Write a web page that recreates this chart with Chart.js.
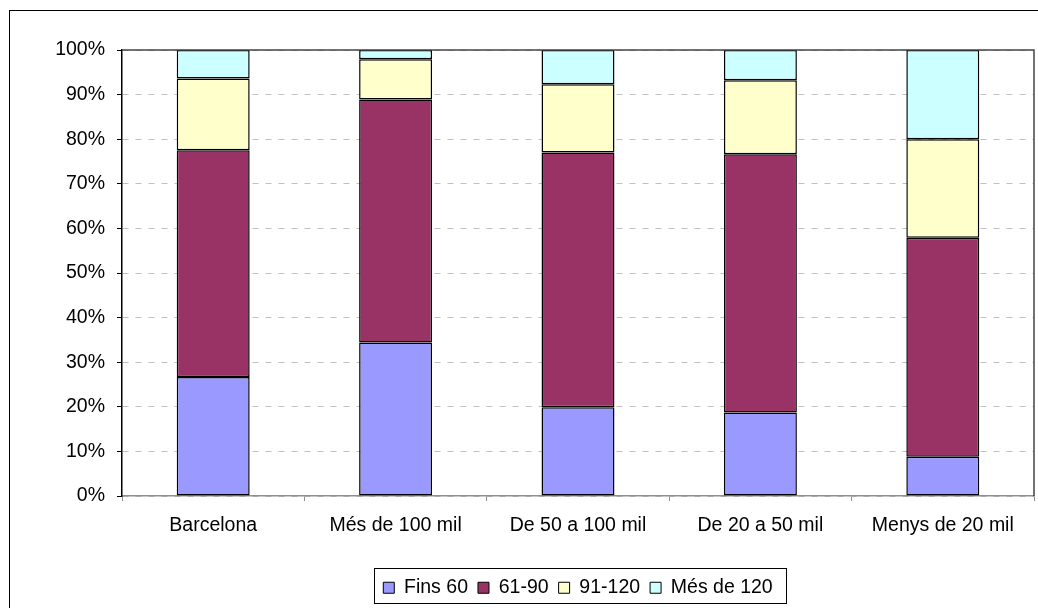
<!DOCTYPE html>
<html>
<head>
<meta charset="utf-8">
<script src="https://cdn.jsdelivr.net/npm/chart.js@4/dist/chart.umd.min.js"></script>
<style>
html,body{margin:0;padding:0;background:#fff;}
#wrap{position:absolute;left:0;top:0;width:1038px;height:608px;}
</style>
</head>
<body>
<div id="wrap"><canvas id="c" width="1038" height="608"></canvas></div>
<script>
const categories = ["Barcelona", "Més de 100 mil", "De 50 a 100 mil", "De 20 a 50 mil", "Menys de 20 mil"];
const seriesNames = ["Fins 60", "61-90", "91-120", "Més de 120"];
const fins60 = [26.7, 34.4, 19.9, 18.7, 8.8];
const r61_90 = [50.8, 54.5, 57.1, 57.9, 49.1];
const r91_120 = [16.1, 9.0, 15.3, 16.6, 22.1];
const mes120 = [6.4, 2.1, 7.7, 6.8, 20.0];
const yTicks = [0, 10, 20, 30, 40, 50, 60, 70, 80, 90, 100];

const colors = ["#9999FF", "#993366", "#FFFFCC", "#CCFFFF"];
const seriesData = [fins60, r61_90, r91_120, mes120];

const FONT = {family: "'Liberation Sans', Arial, sans-serif", size: 19.5};

const framePlugin = {
  id: 'frames',
  beforeLayout(chart) {
    const l = chart.legend;
    if (l && !l._patched) {
      const orig = l.fit.bind(l);
      l.fit = function () { orig(); this.height = 40; };
      l._patched = true;
    }
  },
  afterDraw(chart) {
    const ctx = chart.ctx;
    const a = chart.chartArea;
    ctx.save();
    ctx.strokeStyle = '#000';
    ctx.lineWidth = 1;
    ctx.strokeRect(9.5, 10.5, 1200, 700);
    ctx.strokeStyle = '#444';
    ctx.lineWidth = 1.5;
    ctx.beginPath();
    ctx.moveTo(a.left, Math.round(a.top));
    ctx.lineTo(Math.round(a.right), Math.round(a.top));
    ctx.lineTo(Math.round(a.right), a.bottom);
    ctx.stroke();
    const l = chart.legend;
    if (l && l.legendHitBoxes && l.legendHitBoxes.length) {
      const hb = l.legendHitBoxes;
      const left = hb[0].left - 9;
      const last = hb[hb.length - 1];
      const right = last.left + last.width + 14;
      ctx.strokeStyle = '#000';
      ctx.lineWidth = 1;
      ctx.strokeRect(Math.round(left) + 0.5, Math.round(l.top) + 0.5, Math.round(right - left), 35);
    }
    ctx.restore();
  }
};

new Chart(document.getElementById('c'), {
  type: 'bar',
  data: {
    labels: categories,
    datasets: seriesNames.map((n, i) => ({
      label: n,
      data: seriesData[i],
      backgroundColor: colors[i],
      borderColor: '#000',
      borderWidth: 1.5,
      borderSkipped: false,
      barPercentage: 0.4,
      categoryPercentage: 1.0
    }))
  },
  options: {
    responsive: false,
    animation: false,
    devicePixelRatio: 1,
    layout: {padding: {top: 50, right: 4, bottom: 0, left: 0}},
    plugins: {
      tooltip: {enabled: false},
      legend: {
        position: 'bottom',
        fullSize: false,
        labels: {
          font: FONT,
          color: '#000',
          boxWidth: 11,
          boxHeight: 11,
          padding: 10,
          generateLabels(chart) {
            return chart.data.datasets.map((d, i) => ({
              text: d.label,
              fillStyle: d.backgroundColor,
              strokeStyle: '#000',
              lineWidth: 1,
              datasetIndex: i,
              hidden: false
            }));
          }
        }
      }
    },
    scales: {
      x: {
        stacked: true,
        afterFit(s) { s.height = 72; },
        grid: {display: true, drawOnChartArea: false, drawTicks: true, tickLength: 5, color: '#909090', offset: true},
        border: {display: true, color: '#909090', width: 1.5},
        ticks: {font: FONT, color: '#000', padding: 13, maxRotation: 0, autoSkip: false}
      },
      y: {
        stacked: true,
        min: 0,
        max: 100,
        afterFit(s) { s.width = 122; },
        afterBuildTicks(s) { s.ticks = yTicks.map(v => ({value: v})); },
        grid: {color: '#C0C0C0', lineWidth: 1, tickLength: 5, tickColor: '#000', tickWidth: 1, tickBorderDash: []},
        border: {display: true, color: '#000', width: 1.5, dash: [6, 7]},
        ticks: {font: FONT, color: '#000', padding: 12, callback: v => v + '%'}
      }
    }
  },
  plugins: [framePlugin]
});
</script>
</body>
</html>
